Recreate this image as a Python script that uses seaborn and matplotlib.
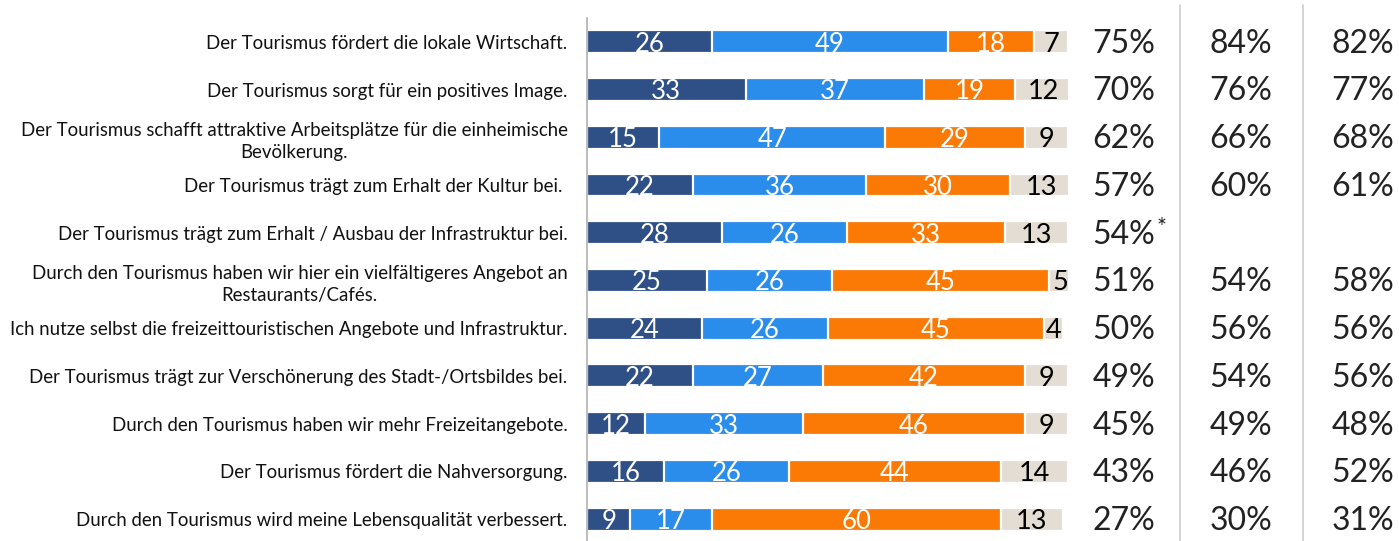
import matplotlib
matplotlib.use("Agg")
import matplotlib.pyplot as plt
import matplotlib.transforms as mtransforms
import seaborn as sns
import pandas as pd
import numpy as np

# Data
statements = [
    "Der Tourismus fördert die lokale Wirtschaft.",
    "Der Tourismus sorgt für ein positives Image.",
    "Der Tourismus schafft attraktive Arbeitsplätze für die einheimische\nBevölkerung.",
    "Der Tourismus trägt zum Erhalt der Kultur bei. ",
    "Der Tourismus trägt zum Erhalt / Ausbau der Infrastruktur bei.",
    "Durch den Tourismus haben wir hier ein vielfältigeres Angebot an\nRestaurants/Cafés.",
    "Ich nutze selbst die freizeittouristischen Angebote und Infrastruktur.",
    "Der Tourismus trägt zur Verschönerung des Stadt-/Ortsbildes bei.",
    "Durch den Tourismus haben wir mehr Freizeitangebote.",
    "Der Tourismus fördert die Nahversorgung.",
    "Durch den Tourismus wird meine Lebensqualität verbessert.",
]
stimme_voll = [26, 33, 15, 22, 28, 25, 24, 22, 12, 16, 9]
stimme_eher = [49, 37, 47, 36, 26, 26, 26, 27, 33, 26, 17]
eher_nicht = [18, 19, 29, 30, 33, 45, 45, 42, 46, 44, 60]
weiss_nicht = [7, 12, 9, 13, 13, 5, 4, 9, 9, 14, 13]

share_now = ["75%", "70%", "62%", "57%", "54%", "51%", "50%", "49%", "45%", "43%", "27%"]
share_prev1 = ["84%", "76%", "66%", "60%", "", "54%", "56%", "54%", "49%", "46%", "30%"]
share_prev2 = ["82%", "77%", "68%", "61%", "", "58%", "56%", "56%", "48%", "52%", "31%"]

colors = ["#2f5086", "#2a8ceb", "#fb7a05", "#e4ddd3"]

df = pd.DataFrame({
    "statement": statements,
    "s1": stimme_voll,
    "s2": stimme_eher,
    "s3": eher_nicht,
    "s4": weiss_nicht,
})
segs = ["s1", "s2", "s3", "s4"]
cum = df[segs].cumsum(axis=1)

sns.set_style("white")
plt.rcParams["font.family"] = ["Lato", "DejaVu Sans"]

fig = plt.figure(figsize=(13.99, 5.41), dpi=100)
ax = fig.add_axes([587 / 1399, -2 / 541, 481 / 1399, 525 / 541])

# stacked bars: draw cumulative totals from the back to the front
for i in range(3, -1, -1):
    sns.barplot(x=cum[segs[i]], y=df["statement"], orient="h", color=colors[i],
                width=0.48, edgecolor="white", linewidth=1.6, saturation=1, ax=ax)

# segment labels
for r in range(len(df)):
    start = 0
    for i, s in enumerate(segs):
        v = df[s].iloc[r]
        mid = start + v / 2
        if i < 3:
            ax.text(mid, r + 0.05, str(v), ha="center", va="center", color="white",
                    fontsize=18.5)
        else:
            ax.text(mid, r + 0.05, str(v), ha="center", va="center", color="black",
                    fontsize=19.5)
        start += v

ax.set_xlim(0, 100)
ax.set_ylim(10.5, -0.5)
ax.set_xlabel("")
ax.set_ylabel("")
ax.set_xticks([])
ax.tick_params(axis="y", which="major", length=0, labelsize=13.4, pad=14,
               labelcolor="#111111")
ax.set_yticks(np.arange(-0.5, 11, 1), minor=True)
ax.tick_params(axis="y", which="minor", length=6, color="#a0a0a0", width=1)
for lbl in ax.get_yticklabels():
    lbl.set_multialignment("center")
    lbl.set_linespacing(1.35)
for side in ["top", "right", "bottom"]:
    ax.spines[side].set_visible(False)
ax.spines["left"].set_color("#b0b0b0")
ax.spines["left"].set_linewidth(1.2)

# percentage columns on the right
trans = mtransforms.blended_transform_factory(fig.transFigure, ax.transData)
col_x = [1124 / 1399, 1241 / 1399, 1363 / 1399]
for cx, col in zip(col_x, [share_now, share_prev1, share_prev2]):
    for r, t in enumerate(col):
        if t:
            ax.text(cx, r + 0.04, t, transform=trans, ha="center", va="center",
                    fontsize=23, color="#222222", clip_on=False)
ax.text(1157 / 1399, 3.9, "*", transform=trans, ha="left", va="center",
        fontsize=17, color="#222222", clip_on=False)

for sx in [1180 / 1399, 1303 / 1399]:
    fig.add_artist(plt.Line2D([sx, sx], [0, 1 - 5 / 541], transform=fig.transFigure,
                              color="#d0cdc8", linewidth=1.2))

fig.savefig("out.png", dpi=100)
